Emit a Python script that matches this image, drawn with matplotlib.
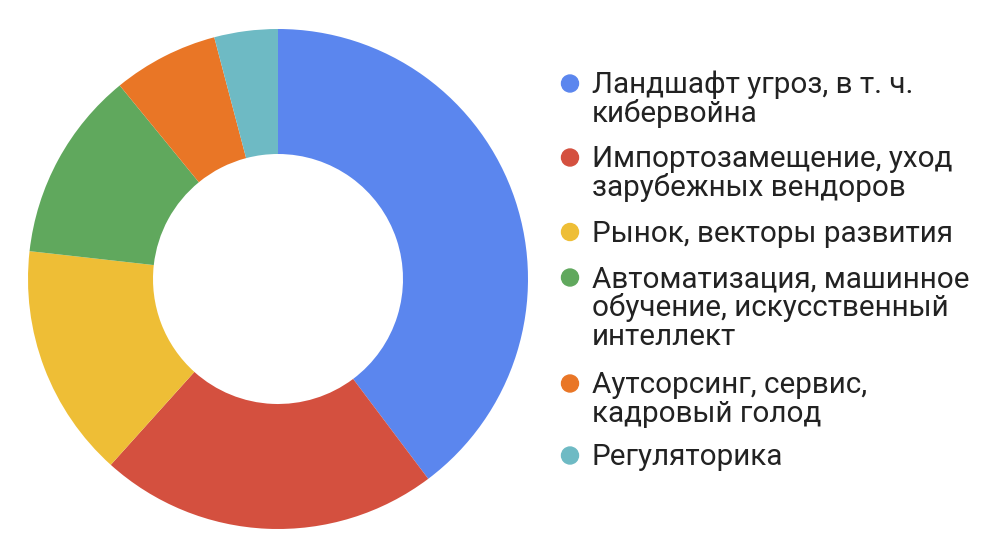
import matplotlib
matplotlib.use("Agg")
import matplotlib.pyplot as plt
from matplotlib.patches import Ellipse

labels = [
    ["Ландшафт угроз, в т. ч.", "кибервойна"],
    ["Импортозамещение, уход", "зарубежных вендоров"],
    ["Рынок, векторы развития"],
    ["Автоматизация, машинное", "обучение, искусственный", "интеллект"],
    ["Аутсорсинг, сервис,", "кадровый голод"],
    ["Регуляторика"],
]
shares = [39.7, 21.9, 15.1, 12.3, 6.8, 4.1]
colors = ["#5B86EE", "#D4503F", "#EEBE36", "#60A85D", "#E97626", "#6EBAC4"]

W, H = 1002, 558
fig = plt.figure(figsize=(W / 100, H / 100), dpi=100)

# donut: centre (278, 279) px, outer radius 250 px, inner 125 px
cx, cy, r = 278, 279, 250
ax = fig.add_axes([(cx - r) / W, (H - cy - r) / H, 2 * r / W, 2 * r / H])
ax.pie(shares, colors=colors, startangle=90, counterclock=False,
       radius=1.0, wedgeprops=dict(width=0.5, linewidth=0))
ax.set_xlim(-1, 1)
ax.set_ylim(-1, 1)
ax.set_aspect("equal")
ax.axis("off")

# legend drawn by hand: dot + wrapped lines
first_baselines = [93, 167, 241.5, 287, 393, 465]
line_step = 28.8
dot_x, text_x, dot_d = 570, 592, 17
for lines, col, y0 in zip(labels, colors, first_baselines):
    fig.patches.append(Ellipse((dot_x / W, 1 - (y0 - 9.5) / H),
                               dot_d / W, dot_d / H,
                               transform=fig.transFigure, color=col,
                               figure=fig))
    for i, ln in enumerate(lines):
        fig.text(text_x / W, 1 - (y0 + i * line_step) / H, ln,
                 family=["Roboto", "DejaVu Sans"], fontsize=21.3,
                 color="#222222", ha="left", va="baseline")

fig.savefig("out.png", dpi=100)
